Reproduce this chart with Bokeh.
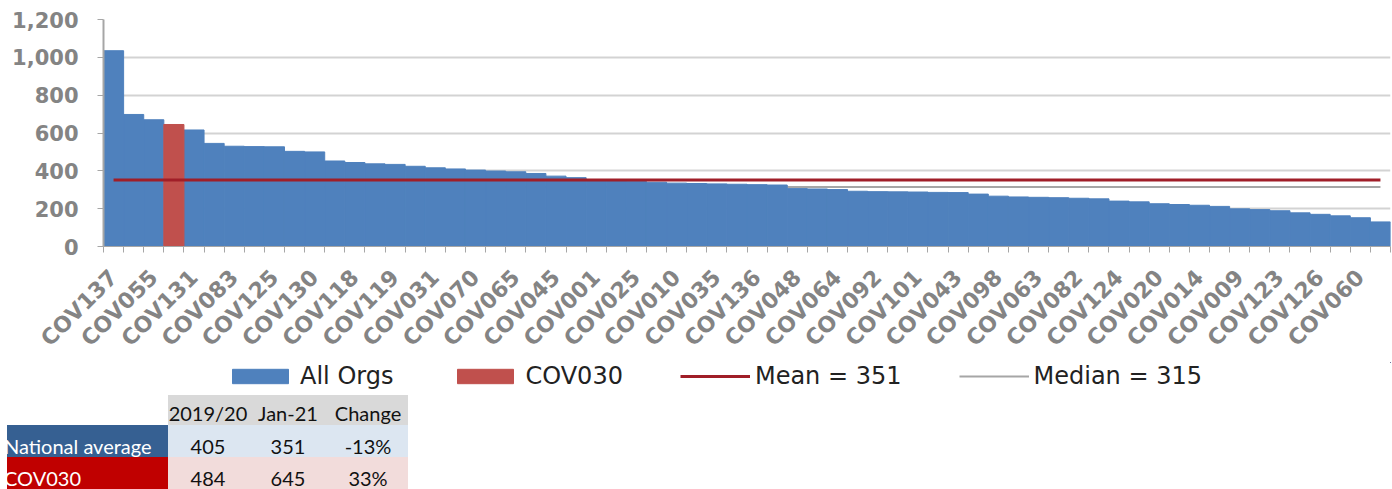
import math
from bokeh.plotting import figure
from bokeh.models import (ColumnDataSource, FixedTicker, NumeralTickFormatter,
                          Legend, LegendItem, Range1d, Div)
from bokeh.layouts import column
from bokeh.embed import file_html
from bokeh.resources import INLINE

# ---------------- data ----------------
values = [1035, 698, 670, 645, 616, 545, 530, 528, 527, 503, 500, 452, 444, 437, 434, 424,
          416, 410, 404, 399, 395, 386, 372, 364, 350, 347, 344, 340, 335, 333, 331, 329,
          327, 325, 306, 304, 301, 292, 290, 289, 288, 286, 285, 277, 266, 262, 260, 258,
          255, 252, 240, 236, 226, 222, 218, 212, 199, 195, 189, 178, 170, 162, 152, 130]
label_names = ["COV137", "COV055", "COV131", "COV083", "COV125", "COV130", "COV118", "COV119",
               "COV031", "COV070", "COV065", "COV045", "COV001", "COV025", "COV010", "COV035",
               "COV136", "COV048", "COV064", "COV092", "COV101", "COV043", "COV098", "COV063",
               "COV082", "COV124", "COV020", "COV014", "COV009", "COV123", "COV126", "COV060"]
label_every = 2
highlight_org = "COV030"
highlight_index = 3
mean_value = 351
median_value = 315
y_ticks = [0, 200, 400, 600, 800, 1000, 1200]

table_columns = ["2019/20", "Jan-21", "Change"]
table_rows = ["National average", "COV030"]
national_values = ["405", "351", "-13%"]
cov030_values = ["484", "645", "33%"]

# ---------------- styles ----------------
BLUE = "#4F81BD"
RED = "#C0504D"
MEAN = "#A01E28"
MEDIAN = "#A6A6A6"
GRID = "#D3D3D3"
AXIS = "#A6A6A6"
TICKTXT = "#848484"

n = len(values)
xs = list(range(n))

p = figure(width=1392, height=362, x_range=Range1d(-0.5, n - 0.5), y_range=Range1d(0, 1200),
           output_backend="svg", toolbar_location=None,
           min_border_left=103, min_border_right=2, min_border_top=19, min_border_bottom=115)
p.outline_line_color = None

blue_idx = [i for i in xs if i != highlight_index]
src_blue = ColumnDataSource(dict(x=blue_idx, top=[values[i] for i in blue_idx]))
src_red = ColumnDataSource(dict(x=[highlight_index], top=[values[highlight_index]]))
src_lines = ColumnDataSource(dict(x=xs, mean=[mean_value] * n, median=[median_value] * n))

p.line(x="x", y="median", source=src_lines, line_color=MEDIAN, line_width=2)
p.vbar(x="x", top="top", width=1.0, source=src_blue,
       fill_color=BLUE, line_color=BLUE, line_width=1)
p.vbar(x="x", top="top", width=1.0, source=src_red,
       fill_color=RED, line_color=RED, line_width=1)
p.line(x="x", y="mean", source=src_lines, line_color=MEAN, line_width=3)

# grid
p.xgrid.visible = False
p.ygrid.ticker = FixedTicker(ticks=y_ticks)
p.ygrid.grid_line_color = GRID
p.ygrid.grid_line_width = 2

# y axis
yax = p.yaxis[0]
yax.ticker = FixedTicker(ticks=y_ticks)
yax.formatter = NumeralTickFormatter(format="0,0")
yax.major_label_text_font = "DejaVu Sans"
yax.major_label_text_font_style = "bold"
yax.major_label_text_font_size = "21px"
yax.major_label_text_color = TICKTXT
yax.axis_line_color = AXIS
yax.axis_line_width = 2
yax.major_tick_line_color = AXIS
yax.major_tick_out = 6
yax.major_tick_in = 0
yax.minor_tick_line_color = None
yax.major_label_standoff = 19

# x axis
label_pos = [i * label_every for i in range(len(label_names))]
xax = p.xaxis[0]
xax.ticker = FixedTicker(ticks=label_pos, minor_ticks=[i - 0.5 for i in range(n + 1)])
xax.major_label_overrides = {pos: name for pos, name in zip(label_pos, label_names)}
xax.major_label_orientation = math.pi / 4
xax.major_label_text_font = "DejaVu Sans"
xax.major_label_text_font_style = "bold"
xax.major_label_text_font_size = "22px"
xax.major_label_text_color = TICKTXT
xax.major_tick_line_color = None
xax.major_tick_out = 0
xax.major_tick_in = 0
xax.minor_tick_line_color = AXIS
xax.minor_tick_out = 6
xax.minor_tick_in = 0
xax.axis_line_color = AXIS
xax.axis_line_width = 1
xax.major_label_standoff = 21

# ---------------- legend strip ----------------
# the strip's ranges lie away from the data, so its renderers only feed the legend
lf = figure(width=1392, height=33, x_range=Range1d(-1000, -999), y_range=Range1d(-1000, -999),
            output_backend="svg", toolbar_location=None,
            min_border_left=103, min_border_right=2, min_border_top=0, min_border_bottom=0,
            x_axis_location=None, y_axis_location=None)
lf.outline_line_color = None
lf.grid.visible = False
lg_blue = lf.vbar(x="x", top="top", width=1.0, source=src_blue, fill_color=BLUE, line_color=BLUE)
lg_red = lf.vbar(x="x", top="top", width=1.0, source=src_red, fill_color=RED, line_color=RED)
lg_mean = lf.line(x="x", y="mean", source=src_lines, line_color=MEAN, line_width=3)
lg_median = lf.line(x="x", y="median", source=src_lines, line_color=MEDIAN, line_width=2)

legend = Legend(items=[LegendItem(label="All Orgs", renderers=[lg_blue]),
                       LegendItem(label=highlight_org, renderers=[lg_red]),
                       LegendItem(label=f"Mean = {mean_value}", renderers=[lg_mean]),
                       LegendItem(label=f"Median = {median_value}", renderers=[lg_median])],
                orientation="horizontal", location=(122, 5),
                glyph_width=70, glyph_height=18, label_standoff=5, spacing=57,
                label_text_font="DejaVu Sans", label_text_font_size="24px",
                label_text_color="#222222", label_height=24,
                border_line_color=None, background_fill_alpha=0, padding=0, margin=0)
lf.add_layout(legend, "center")

# ---------------- table (HTML) ----------------
label_l, label_w = 7, 161
col_l0, col_w = 168, 80
row_top = [0, 30, 62]
row_h = [30, 32, 32]
text_mid = [18, 51, 83]
label_bg = ["#366092", "#C00000"]
value_bg = ["#DCE6F1", "#F2DCDB"]


def cell(left, top, width, height, bg):
    return (f'<div style="position:absolute;left:{left}px;top:{top}px;width:{width}px;'
            f'height:{height}px;background:{bg};"></div>')


def txt(left, mid, width, s, color, align):
    return (f'<div style="position:absolute;left:{left}px;top:{mid - 13}px;width:{width}px;'
            f'height:26px;line-height:26px;text-align:{align};color:{color};'
            f'white-space:nowrap;">{s}</div>')


parts = []
for c, head in enumerate(table_columns):
    parts.append(cell(col_l0 + c * col_w, row_top[0], col_w, row_h[0], "#D9D9D9"))
    parts.append(txt(col_l0 + c * col_w, text_mid[0], col_w, head, "#111111", "center"))
for r, (name, vals) in enumerate(zip(table_rows, [national_values, cov030_values])):
    parts.append(cell(label_l, row_top[r + 1], label_w, row_h[r + 1], label_bg[r]))
    parts.append(txt(4, text_mid[r + 1], label_w + 3, name, "#FFFFFF", "left"))
    for c, v in enumerate(vals):
        parts.append(cell(col_l0 + c * col_w, row_top[r + 1], col_w, row_h[r + 1], value_bg[r]))
        parts.append(txt(col_l0 + c * col_w, text_mid[r + 1], col_w, v, "#111111", "center"))

html = ('<div style="position:relative;width:410px;height:94px;overflow:hidden;'
        'font-family:Lato, sans-serif;font-size:20px;">' + "".join(parts) + '</div>')
table_div = Div(text=html, width=410, height=94, margin=0)

layout = column(p, lf, table_div, spacing=0)
open("out.html", "w").write(file_html(layout, INLINE))
